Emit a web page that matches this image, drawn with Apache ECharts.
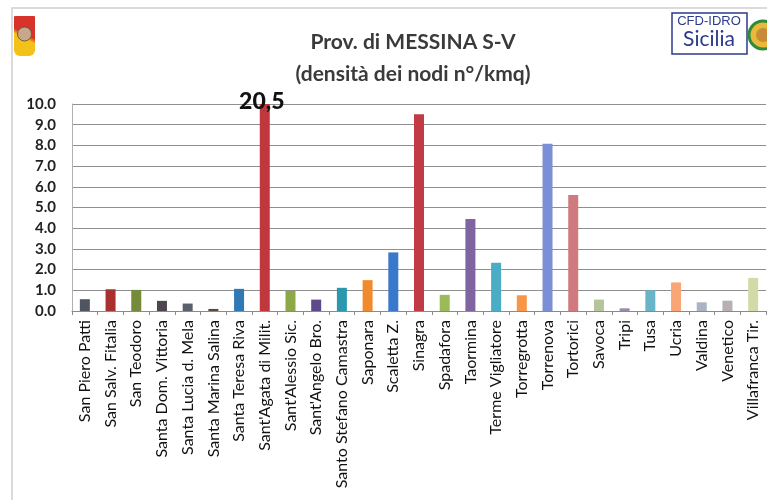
<!DOCTYPE html>
<html>
<head>
<meta charset="utf-8">
<script src="https://cdn.jsdelivr.net/npm/echarts@6/dist/echarts.min.js"></script>
<style>
  html, body { margin: 0; padding: 0; background: #fff; }
  #chart { width: 767px; height: 500px; }
</style>
</head>
<body>
<div id="chart"></div>
<script>
// comuni della provincia
var comuni = ['San Piero Patti', 'San Salv. Fitalia', 'San Teodoro', 'Santa Dom. Vittoria',
  'Santa Lucia d. Mela', 'Santa Marina Salina', 'Santa Teresa Riva', "Sant'Agata di Milit.",
  "Sant'Alessio Sic.", "Sant'Angelo Bro.", 'Santo Stefano Camastra', 'Saponara', 'Scaletta Z.',
  'Sinagra', 'Spadafora', 'Taormina', 'Terme Vigliatore', 'Torregrotta', 'Torrenova',
  'Tortorici', 'Savoca', 'Tripi', 'Tusa', 'Ucria', 'Valdina', 'Venetico', 'Villafranca Tir.'];

// densita' dei nodi (n°/kmq)
var densita = [0.57, 1.05, 1.02, 0.49, 0.36, 0.1, 1.07, 20.5,
  0.97, 0.55, 1.12, 1.49, 2.83, 9.5, 0.78, 4.45, 2.33, 0.76, 8.08,
  5.6, 0.55, 0.13, 1.0, 1.38, 0.42, 0.5, 1.6];

// colori delle barre (uno per punto)
var colori = ['#4f5561', '#a8302f', '#758a3a', '#4d4652', '#5b616c', '#5a4a3a', '#2f7ab5', '#c0383d',
  '#8da846', '#5e4a8a', '#2b98b0', '#f08a2c', '#3a78cc', '#c23a44', '#9bbb59', '#8064a2',
  '#4bacc6', '#f79646', '#7a8fd4', '#d07a80', '#b5c49a', '#9c8aaa', '#69b5c8', '#f9a576',
  '#a9b3c4', '#b8b0b0', '#d2dba7'];

var yTicks = [0, 1, 2, 3, 4, 5, 6, 7, 8, 9, 10];
var yMax = 10;

var myChart = echarts.init(document.getElementById('chart'));

var dati = densita.map(function (v, i) {
  var item = { value: Math.min(v, yMax), itemStyle: { color: colori[i] } };
  if (v > yMax) {
    // valore fuori scala: barra tagliata e valore scritto sopra
    item.label = {
      show: true, position: 'top', offset: [-3, 14],
      formatter: String(v).replace('.', ','),
      fontFamily: 'Lato', fontWeight: 900, fontSize: 23, color: '#111'
    };
  }
  return item;
});

myChart.setOption({
  animation: false,
  backgroundColor: '#fff',
  title: {
    text: 'Prov. di MESSINA S-V',
    subtext: '(densità dei nodi n°/kmq)',
    left: 408, textAlign: 'center', top: 27, itemGap: 11,
    textStyle: { fontFamily: 'Lato', fontWeight: 'bold', fontSize: 21, color: '#3a3a3a' },
    subtextStyle: { fontFamily: 'Lato', fontWeight: 'bold', fontSize: 21, color: '#3a3a3a' }
  },
  grid: { left: 72, right: 1, top: 104, bottom: 189, containLabel: false },
  xAxis: {
    type: 'category',
    data: comuni,
    axisLine: { lineStyle: { color: '#8a8a8a' } },
    axisTick: { show: true, length: 4, lineStyle: { color: '#8a8a8a' } },
    axisLabel: {
      rotate: 90, interval: 0, margin: 9,
      fontFamily: 'Lato', fontSize: 16, color: '#111'
    }
  },
  yAxis: {
    type: 'value',
    min: 0, max: yMax, interval: 1,
    axisLine: { show: true, lineStyle: { color: '#b0b0b0' } },
    axisTick: { show: false },
    splitLine: { lineStyle: { color: '#8f8f8f', width: 1 } },
    axisLabel: {
      margin: 16, fontFamily: 'Lato', fontWeight: 'bold', fontSize: 15, color: '#222',
      formatter: function (v) { return yTicks.indexOf(v) >= 0 ? v.toFixed(1) : ''; }
    }
  },
  series: [{
    type: 'bar',
    data: dati,
    barWidth: 10,
    clip: true
  }],
  graphic: [
    // cornice
    { type: 'rect', shape: { x: 12, y: 8, width: 760, height: 500 },
      style: { fill: 'none', stroke: '#cfcfcf', lineWidth: 1.5 }, silent: true },
    // stemma Regione Sicilia
    { type: 'rect', shape: { x: 14, y: 16, width: 21, height: 40, r: [1, 1, 6, 6] },
      style: { fill: new echarts.graphic.LinearGradient(0, 1, 1, 0, [
        { offset: 0.45, color: '#f2c21b' }, { offset: 0.55, color: '#d8332a' }]) } },
    { type: 'circle', shape: { cx: 24.5, cy: 34, r: 7 },
      style: { fill: '#c9a88a', stroke: '#6b5a4a', lineWidth: 1 } },
    // logo CFD-IDRO
    { type: 'rect', shape: { x: 672, y: 13, width: 75, height: 41 },
      style: { fill: '#fff', stroke: '#2b3b8a', lineWidth: 1.5 } },
    { type: 'text', x: 709, y: 15, style: { text: 'CFD-IDRO', textAlign: 'center',
      fontFamily: 'Liberation Sans Narrow, Liberation Sans', fontSize: 13, fill: '#2b3b8a' } },
    { type: 'text', x: 709, y: 29, style: { text: 'Sicilia', textAlign: 'center',
      fontFamily: 'Lato', fontSize: 21, fill: '#2b3b8a' } },
    { type: 'circle', shape: { cx: 763, cy: 35, r: 14 },
      style: { fill: '#e9b93a', stroke: '#2f8a3a', lineWidth: 3 } },
    { type: 'circle', shape: { cx: 763, cy: 35, r: 7 },
      style: { fill: '#c98a3a' } }
  ]
}, true);
</script>
</body>
</html>
